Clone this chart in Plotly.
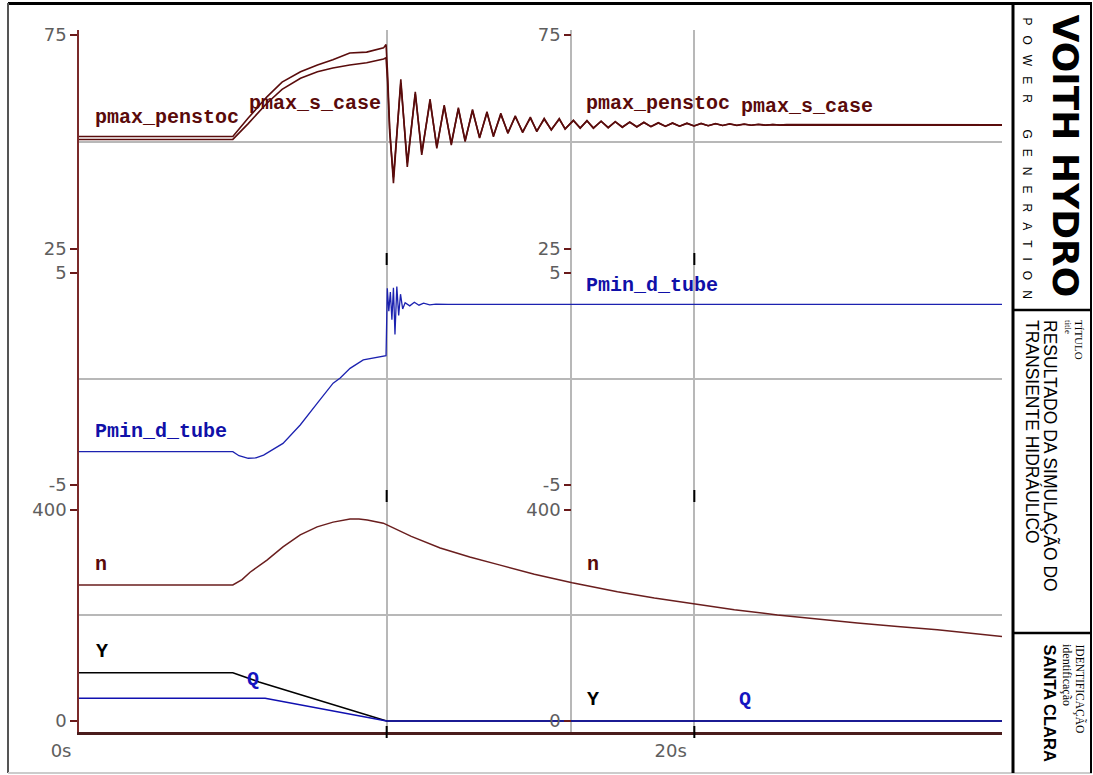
import plotly.graph_objects as go

# ---------------- data ----------------
# top panel : pmax_penstoc / pmax_s_case  (shared time base, s)
pmax_t = [0, 5.0, 5.5, 6.1, 6.6, 7.2, 7.75, 8.25, 8.8, 9.35, 9.9, 9.98,
          10.03, 10.1,
          10.22, 10.46, 10.67, 10.93, 11.14, 11.41, 11.63, 11.87, 12.10, 12.33,
          12.55, 12.79, 13.02, 13.26, 13.47, 13.71, 13.94, 14.18, 14.42, 14.67,
          14.88, 15.12, 15.35, 15.61, 15.80, 16.07, 16.29, 16.51, 16.72, 16.97,
          17.20, 17.43, 17.66, 17.90, 18.13, 18.36, 18.59, 18.83, 19.06, 19.29,
          19.52, 19.76, 19.99, 20.22, 20.45, 20.69, 20.92, 21.15, 21.38, 21.62,
          21.85, 22.08, 22.31, 22.55, 22.78, 23.0,
          30.0]
pmax_penstoc = [51.3, 51.3, 55.6, 60.5, 64.0, 66.4, 68.0, 69.2, 70.8, 71.0, 72.0, 72.8,
                66.0, 53.0,
                40.4, 64.65, 44.2, 61.75, 47.0, 60.0, 48.5, 58.6, 49.3, 58.0,
                50.1, 57.6, 50.9, 57.1, 51.2, 56.7, 52.0, 56.1, 52.2, 55.8,
                52.4, 55.5, 52.8, 55.5, 53.0, 55.1, 53.2, 55.0, 53.2, 54.9,
                53.3, 54.8, 53.4, 54.7, 53.5, 54.6, 53.6, 54.5, 53.65, 54.45,
                53.7, 54.4, 53.75, 54.35, 53.8, 54.3, 53.85, 54.25, 53.9, 54.2,
                53.92, 54.15, 53.95, 54.1, 53.97, 54.05,
                54.0]
pmax_s_case = [50.6, 50.6, 54.3, 59.0, 62.3, 64.9, 66.4, 67.3, 68.0, 68.5, 69.4, 69.7,
               64.0, 52.0,
               41.8, 63.8, 45.2, 61.2, 47.6, 59.5, 48.9, 58.3, 49.7, 57.7,
               50.4, 57.3, 51.1, 56.8, 51.5, 56.4, 52.2, 55.9, 52.4, 55.6,
               52.6, 55.3, 52.9, 55.3, 53.1, 55.0, 53.3, 54.9, 53.3, 54.8,
               53.4, 54.7, 53.5, 54.6, 53.55, 54.55, 53.6, 54.45, 53.7, 54.4,
               53.7, 54.35, 53.75, 54.3, 53.8, 54.25, 53.85, 54.2, 53.85, 54.15,
               53.9, 54.1, 53.9, 54.05, 53.95, 54.0,
               53.95]

# middle panel : Pmin_d_tube
pmin_t = [0, 5.0, 5.2, 5.5, 5.75, 6.0, 6.63, 7.19, 7.74, 8.26, 8.49, 8.81, 9.24, 9.89, 9.98,
          10.02, 10.07, 10.12, 10.17, 10.22, 10.27, 10.33, 10.39, 10.45, 10.52,
          10.6, 10.75, 10.9, 11.05, 11.2, 11.4, 11.6, 12.0, 30.0]
pmin_d_tube = [-3.43, -3.43, -3.62, -3.74, -3.72, -3.59, -3.04, -2.17, -1.15, -0.2,
               0.05, 0.5, 0.9, 1.05, 1.1,
               4.28, 3.2, 4.1, 2.8, 4.3, 2.1, 4.36, 3.0, 4.0, 3.3,
               3.6, 3.45, 3.62, 3.48, 3.58, 3.5, 3.53, 3.52, 3.52]

# bottom panel : n, Y, Q
n_t = [0, 5.0, 5.3, 5.56, 6.11, 6.63, 7.19, 7.74, 8.26, 8.81, 9.1, 9.37, 9.89, 10.0,
       10.8, 11.74, 12.7, 13.66, 14.8, 16.03, 17.5, 18.7, 20.0, 21.3, 22.7, 24.0,
       25.3, 26.6, 27.9, 30.0]
n_val = [258, 258, 268, 282, 305, 330, 353, 368, 377, 383, 383, 381, 375, 372,
         350, 328, 311, 296, 278, 262, 245, 233, 222, 211, 201, 193,
         186, 179, 173, 160]
y_t = [0, 5.0, 5.85, 10.0, 30.0]
y_val = [91.6, 91.6, 74.0, 0.0, 0.0]
q_t = [0, 6.05, 10.0, 30.0]
q_val = [43.0, 43.0, 0.0, 0.0]

# axis ticks
x_tickvals = [0, 10, 16, 20]
x_ticktext = ["0s", "", "", "20s"]
second_axis_t = 16
top_ticks = [25, 75]
mid_ticks = [-5, 5]
mid_ticktext = ["-5", "5"]
bot_ticks = [0, 400]

# curve labels: (text, t, value, axis, colour)
curve_labels = [
    ("pmax_penstoc", 0.45, 55.8, "y", "#5a0a0a"),
    ("pmax_s_case", 5.45, 59.1, "y", "#5a0a0a"),
    ("pmax_penstoc", 16.4, 58.9, "y", "#5a0a0a"),
    ("pmax_s_case", 21.45, 58.4, "y", "#5a0a0a"),
    ("Pmin_d_tube", 0.45, -2.5, "y2", "#1010a8"),
    ("Pmin_d_tube", 16.4, 4.43, "y2", "#1010a8"),
    ("n", 0.45, 296, "y3", "#5a0a0a"),
    ("n", 16.45, 296, "y3", "#5a0a0a"),
    ("Y", 0.5, 131, "y3", "#000000"),
    ("Y", 16.45, 40, "y3", "#000000"),
    ("Q", 5.4, 78, "y3", "#1414c0"),
    ("Q", 21.4, 40, "y3", "#1414c0"),
]

# ---------------- layout geometry ----------------
W, H = 1093, 775
def px(x):
    return x / W
def py(y):
    return 1 - y / H

x_range = [0, 30]
x_dom = [px(79), px(1002)]
top_dom = [py(259), py(30)]
mid_dom = [py(496), py(259)]
bot_dom = [py(732), py(496)]
top_rng = [22.66, 76.17]
mid_rng = [-5.52, 5.66]
bot_rng = [-20.85, 426.5]

GRID = "#b8b8b8"
AXC = "#7a2a2a"
TICKFONT = dict(family="DejaVu Sans", size=18, color="#5e5e5e")

fig = go.Figure()
fig.add_trace(go.Scatter(x=pmax_t, y=pmax_penstoc, mode="lines", xaxis="x", yaxis="y",
                         line=dict(color="#5a0c0c", width=1.6), name="pmax_penstoc"))
fig.add_trace(go.Scatter(x=pmax_t, y=pmax_s_case, mode="lines", xaxis="x", yaxis="y",
                         line=dict(color="#5a0c0c", width=1.6), name="pmax_s_case"))
fig.add_trace(go.Scatter(x=pmin_t, y=pmin_d_tube, mode="lines", xaxis="x", yaxis="y2",
                         line=dict(color="#1c22b0", width=1.3), name="Pmin_d_tube"))
fig.add_trace(go.Scatter(x=n_t, y=n_val, mode="lines", xaxis="x", yaxis="y3",
                         line=dict(color="#6a1e1e", width=1.5), name="n"))
fig.add_trace(go.Scatter(x=y_t, y=y_val, mode="lines", xaxis="x", yaxis="y3",
                         line=dict(color="#000000", width=1.6), name="Y"))
fig.add_trace(go.Scatter(x=q_t, y=q_val, mode="lines", xaxis="x", yaxis="y3",
                         line=dict(color="#1010b0", width=1.6), name="Q"))
# empty traces so the secondary (overlaid) scales get their own subplots
for ax in ["y4", "y5", "y6"]:
    fig.add_trace(go.Scatter(x=[], y=[], xaxis="x", yaxis=ax, hoverinfo="skip", showlegend=False))

second_pos = x_dom[0] + (second_axis_t - x_range[0]) / (x_range[1] - x_range[0]) * (x_dom[1] - x_dom[0])

def yax(dom, rng, tickvals, ticktext, gridval):
    return dict(domain=dom, range=rng, anchor="x", showline=True, linecolor=AXC, linewidth=1.5,
                tickmode="array", tickvals=tickvals, ticktext=ticktext,
                ticks="outside", ticklen=7, tickwidth=2, tickcolor="#6a1a1a",
                tickfont=TICKFONT, showgrid=False, zeroline=False, automargin=False,
                minor=dict(tickmode="array", tickvals=[gridval], showgrid=True,
                           gridcolor=GRID, gridwidth=2, ticks=""))

def yax_second(over, dom, rng, tickvals, ticktext):
    return dict(overlaying=over, anchor="free", position=second_pos, side="left", domain=dom,
                range=rng, tickmode="array", tickvals=tickvals, ticktext=ticktext,
                ticks="outside", ticklen=7, tickwidth=2, tickcolor="#6a1a1a",
                tickfont=TICKFONT, showline=False, showgrid=False, zeroline=False,
                automargin=False)

def x_boundary(anchor):
    return dict(matches="x", anchor=anchor, domain=x_dom, showline=True, linecolor=GRID,
                linewidth=2, showgrid=False, showticklabels=False, ticks="", zeroline=False,
                automargin=False)

fig.update_layout(
    template="none",
    width=W, height=H, margin=dict(l=0, r=0, t=0, b=0, pad=0), autosize=False,
    paper_bgcolor="white", plot_bgcolor="white", showlegend=False,
    xaxis=dict(domain=x_dom, range=x_range, anchor="y3", showline=True, linecolor="#4a1c1c",
               linewidth=3, tickmode="array", tickvals=x_tickvals, ticktext=x_ticktext,
               ticks="", showgrid=True, gridcolor=GRID, gridwidth=2, zeroline=False,
               ticklabelposition="outside left", ticklabelshift=-6,
               tickfont=TICKFONT, automargin=False),
    xaxis2=x_boundary("y"),
    xaxis3=x_boundary("y2"),
    yaxis=yax(top_dom, top_rng, top_ticks, [str(v) for v in top_ticks], 50),
    yaxis2=yax(mid_dom, mid_rng, mid_ticks, mid_ticktext, 0),
    yaxis3=yax(bot_dom, bot_rng, bot_ticks, [str(v) for v in bot_ticks], 200),
    yaxis4=yax_second("y", top_dom, top_rng, top_ticks, [str(v) for v in top_ticks]),
    yaxis5=yax_second("y2", mid_dom, mid_rng, mid_ticks, mid_ticktext),
    yaxis6=yax_second("y3", bot_dom, bot_rng, bot_ticks, [str(v) for v in bot_ticks]),
)

# black cross ticks at panel boundaries for the major time gridlines
for ref in ["y domain", "y2 domain", "y3 domain"]:
    for tv in [10, 20]:
        fig.add_shape(type="line", xref="x", yref=ref, x0=tv, x1=tv,
                      ysizemode="pixel", yanchor=0, y0=-6, y1=6,
                      line=dict(color="black", width=2))

# frame and title block
frame = [
    (8, 3.5, 1092, 3.5, "black", 3),
    (8, 3, 8, 773, "#555555", 2),
    (8, 773, 1092, 773, "#cccccc", 2),
    (1091, 3, 1091, 773, "black", 2),
    (1013, 3, 1013, 773, "black", 3),
    (1013, 310, 1091, 310, "black", 2.5),
    (1013, 633, 1091, 633, "black", 2.5),
]
for x0, y0, x1, y1, c, w in frame:
    fig.add_shape(type="line", xref="paper", yref="paper", x0=px(x0), x1=px(x1),
                  y0=py(y0), y1=py(y1), line=dict(color=c, width=w))

sp = "\u00a0"
power_gen = (sp * 3).join("POWER") + sp * 8 + (sp * 3).join("GENERATION")
title_block = [
    ("<b>VOITH HYDRO</b>", 1065, 12, dict(family="DejaVu Sans", size=36, color="black")),
    (power_gen, 1027, 15, dict(family="Liberation Sans", size=12, color="black")),
    ("TÍTULO", 1079, 318, dict(family="Liberation Serif", size=11, color="black")),
    ("title", 1068, 318, dict(family="Liberation Serif", size=9, color="black")),
    ("RESULTADO DA SIMULAÇÃO DO", 1051, 318, dict(family="Liberation Sans", size=17.5, color="black")),
    ("TRANSIENTE HIDRÁULICO", 1032, 318, dict(family="Liberation Sans", size=17.5, color="black")),
    ("IDENTIFICAÇÃO", 1080, 642, dict(family="Liberation Serif", size=11.5, color="black")),
    ("identificação", 1067, 642, dict(family="Liberation Serif", size=12, color="black")),
    ("<b>SANTA CLARA</b>", 1050, 642, dict(family="Liberation Sans", size=16.5, color="black")),
]
for text, x, y, f in title_block:
    fig.add_annotation(text=text, xref="paper", yref="paper", x=px(x), y=py(y),
                       xanchor="center", yanchor="top", textangle=90, showarrow=False, font=f)

for text, t, v, ax, col in curve_labels:
    fig.add_annotation(text="<b>" + text + "</b>", xref="x", yref=ax, x=t, y=v,
                       xanchor="left", yanchor="middle", showarrow=False,
                       font=dict(family="Liberation Mono", size=20, color=col))

fig.write_html("out.html", config={"displayModeBar": False},
               post_script="document.body.style.margin='0px';")
